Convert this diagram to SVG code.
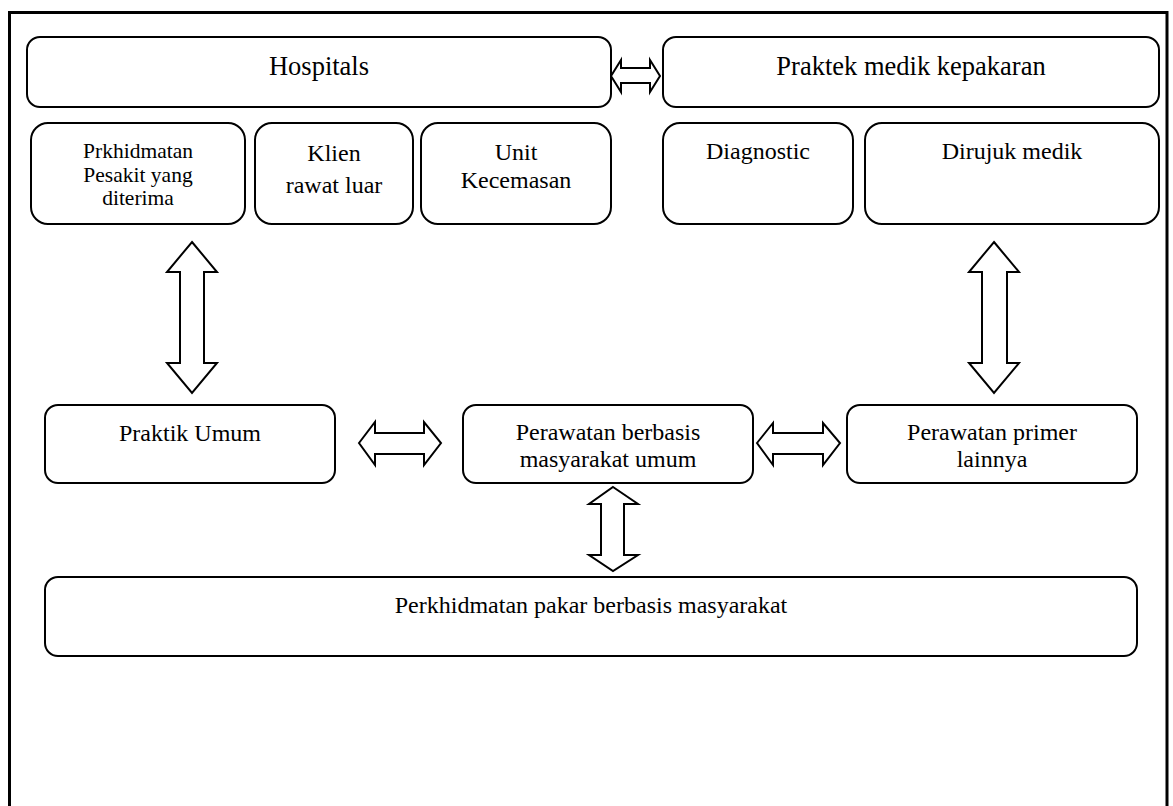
<svg xmlns="http://www.w3.org/2000/svg" width="1173" height="806" viewBox="0 0 1173 806">
  <style>
    .box { fill: #ffffff; stroke: #000000; stroke-width: 2; }
    .arrow { fill: #ffffff; stroke: #000000; stroke-width: 2; stroke-linejoin: miter; }
    .frame { fill: none; stroke: #000000; stroke-width: 3; }
    text { font-family: "Liberation Serif", "Times New Roman", serif; fill: #000000; text-anchor: middle; }
    .big { font-size: 26.5px; }
    .mid { font-size: 24px; }
    .small { font-size: 21.5px; }
  </style>
  <rect x="0" y="0" width="1173" height="806" fill="#ffffff"/>
  <!-- outer frame, open at the bottom edge -->
  <path class="frame" d="M9.5,806 V12.5 H1167 V806"/>

  <g id="hospitals">
    <rect class="box" x="27" y="37" width="584" height="70" rx="13"/>
    <text class="big" x="319" y="75">Hospitals</text>
  </g>
  <g id="praktek-medik">
    <rect class="box" x="663" y="37" width="496" height="70" rx="13"/>
    <text class="big" x="911" y="75">Praktek medik kepakaran</text>
  </g>
  <g id="prkhidmatan">
    <rect class="box" x="31" y="123" width="214" height="101" rx="17"/>
    <text class="small" x="138" y="158">Prkhidmatan</text>
    <text class="small" x="138" y="182">Pesakit yang</text>
    <text class="small" x="138" y="205">diterima</text>
  </g>
  <g id="klien">
    <rect class="box" x="255" y="123" width="158" height="101" rx="17"/>
    <text class="mid" x="334" y="161">Klien</text>
    <text class="mid" x="334" y="193">rawat luar</text>
  </g>
  <g id="unit">
    <rect class="box" x="421" y="123" width="190" height="101" rx="17"/>
    <text class="mid" x="516" y="160">Unit</text>
    <text class="mid" x="516" y="188">Kecemasan</text>
  </g>
  <g id="diagnostic">
    <rect class="box" x="663" y="123" width="190" height="101" rx="17"/>
    <text class="mid" x="758" y="159">Diagnostic</text>
  </g>
  <g id="dirujuk">
    <rect class="box" x="865" y="123" width="294" height="101" rx="17"/>
    <text class="mid" x="1012" y="159">Dirujuk medik</text>
  </g>
  <g id="praktik-umum">
    <rect class="box" x="45" y="405" width="290" height="78" rx="13"/>
    <text class="mid" x="190" y="441">Praktik Umum</text>
  </g>
  <g id="perawatan-berbasis">
    <rect class="box" x="463" y="405" width="290" height="78" rx="13"/>
    <text class="mid" x="608" y="440">Perawatan berbasis</text>
    <text class="mid" x="608" y="467">masyarakat umum</text>
  </g>
  <g id="perawatan-primer">
    <rect class="box" x="847" y="405" width="290" height="78" rx="13"/>
    <text class="mid" x="992" y="440">Perawatan primer</text>
    <text class="mid" x="992" y="467">lainnya</text>
  </g>
  <g id="pakar">
    <rect class="box" x="45" y="577" width="1092" height="79" rx="13"/>
    <text class="mid" x="591" y="613">Perkhidmatan pakar berbasis masyarakat</text>
  </g>

  <g id="connectors">
    <!-- hospitals <-> praktek medik -->
    <path class="arrow" d="M611,76 L621,60 V68 H650 V60 L660,76 L650,92 V83 H621 V92 Z"/>
    <!-- prkhidmatan <-> praktik umum -->
    <path class="arrow" d="M192,242 L217,272 H204 V363 H217 L192,393 L167,363 H180 V272 H167 Z"/>
    <!-- dirujuk <-> perawatan primer -->
    <path class="arrow" d="M994,242 L1019,272 H1007 V363 H1019 L994,393 L969,363 H982 V272 H969 Z"/>
    <!-- praktik umum <-> perawatan berbasis -->
    <path class="arrow" d="M359,443 L375,422 V433 H424 V422 L441,443 L424,465 V454 H375 V465 Z"/>
    <!-- perawatan berbasis <-> perawatan primer -->
    <path class="arrow" d="M757,443 L773,423 V433 H823 V423 L840,443 L823,465 V454 H773 V465 Z"/>
    <!-- perawatan berbasis <-> pakar -->
    <path class="arrow" d="M613,487 L638,504 H624 V555 H638 L613,571 L589,555 H601 V504 H589 Z"/>
  </g>
</svg>
